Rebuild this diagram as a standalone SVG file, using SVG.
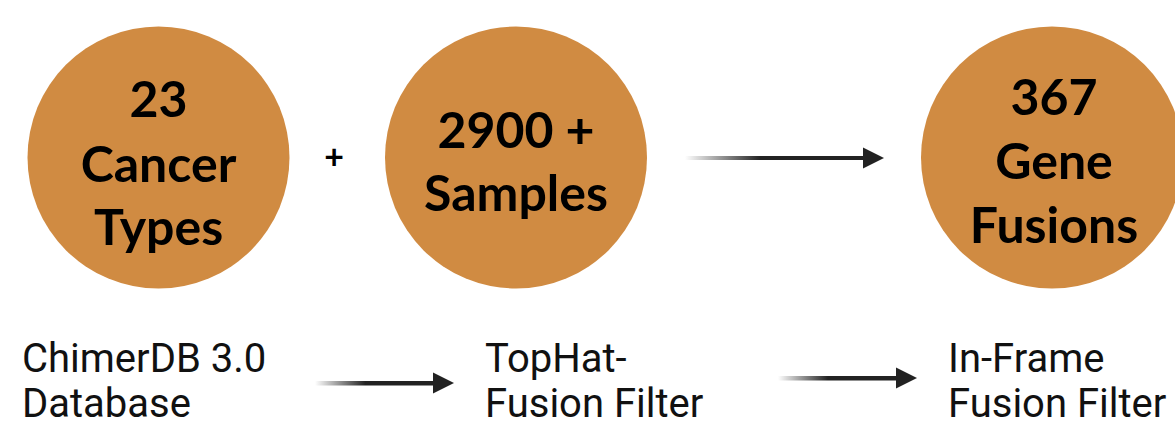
<svg xmlns="http://www.w3.org/2000/svg" width="1175" height="426" viewBox="0 0 1175 426">
  <style>
    .disc { fill: #D08B42; }
    .big { font-family: Lato, "Noto Sans", sans-serif; font-weight: 700; font-size: 50px; fill: #000; text-anchor: middle; }
    .plus { font-family: Lato, "Noto Sans", sans-serif; font-weight: 700; font-size: 34px; fill: #000; text-anchor: middle; }
    .cap { font-family: Roboto, "Liberation Sans", sans-serif; font-size: 40px; fill: #111; }
    .shaft { fill: url(#fade); }
    .head { fill: #222; }
  </style>
  <defs>
    <linearGradient id="fade" x1="0" y1="0" x2="1" y2="0">
      <stop offset="0" stop-color="#222" stop-opacity="0"/>
      <stop offset="0.42" stop-color="#222" stop-opacity="1"/>
      <stop offset="1" stop-color="#222" stop-opacity="1"/>
    </linearGradient>
    <path id="tip" d="M0,-10.5 L21,0 L0,10.5 Z"/>
  </defs>
  <rect width="1175" height="426" fill="#fff"/>

  <g id="cancer-types">
    <circle class="disc" cx="158.5" cy="157.5" r="131"/>
    <text class="big" x="158.5" y="117">23</text>
    <text class="big" x="158.5" y="182">Cancer</text>
    <text class="big" x="158.5" y="245">Types</text>
  </g>

  <g id="plus-sign">
    <text class="plus" x="334" y="169">+</text>
  </g>

  <g id="samples">
    <circle class="disc" cx="516" cy="157.5" r="131"/>
    <text class="big" x="516" y="148">2900 +</text>
    <text class="big" x="516" y="211">Samples</text>
  </g>

  <g id="gene-fusions">
    <circle class="disc" cx="1052" cy="157.5" r="131"/>
    <text class="big" x="1054" y="115">367</text>
    <text class="big" x="1054" y="179">Gene</text>
    <text class="big" x="1054" y="243">Fusions</text>
  </g>

  <g id="chimerdb">
    <text class="cap" x="22" y="372">ChimerDB 3.0</text>
    <text class="cap" x="22" y="417">Database</text>
  </g>

  <g id="tophat">
    <text class="cap" x="485" y="372">TopHat-</text>
    <text class="cap" x="485" y="417">Fusion Filter</text>
  </g>

  <g id="inframe">
    <text class="cap" x="948" y="372">In-Frame</text>
    <text class="cap" x="948" y="417">Fusion Filter</text>
  </g>

  <g id="connectors">
    <rect class="shaft" x="685" y="156" width="180" height="4"/>
    <use href="#tip" class="head" x="863" y="158"/>
    <rect class="shaft" x="315" y="381" width="120" height="4.5"/>
    <use href="#tip" class="head" x="433" y="383"/>
    <rect class="shaft" x="778" y="376" width="119" height="4.5"/>
    <use href="#tip" class="head" x="896" y="378"/>
  </g>
</svg>
